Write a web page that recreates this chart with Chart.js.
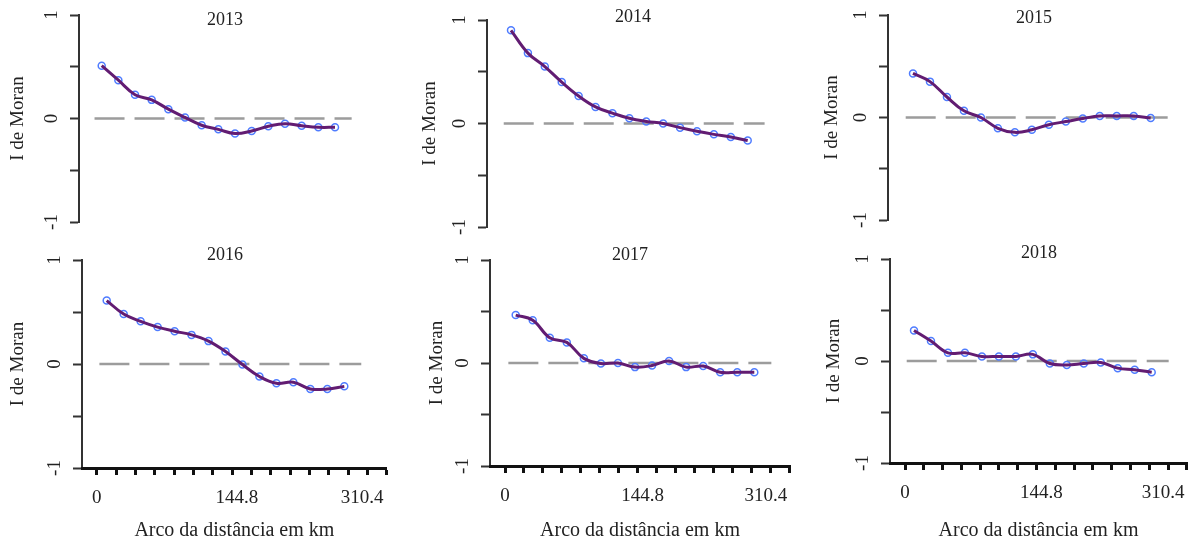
<!DOCTYPE html>
<html>
<head>
<meta charset="utf-8">
<title>I de Moran 2013-2018</title>
<script src="https://cdn.jsdelivr.net/npm/chart.js@4.4.1/dist/chart.umd.min.js"></script>
<style>
  html, body { margin: 0; padding: 0; background: #fff; width: 1199px; height: 543px; overflow: hidden; position: relative; }
  canvas { position: absolute; }
</style>
</head>
<body>
<script>
// distance classes (lags) and Moran's I per year
const lags = [1, 2, 3, 4, 5, 6, 7, 8, 9, 10, 11, 12, 13, 14, 15];
const years = ['2013', '2014', '2015', '2016', '2017', '2018'];
const moran2013 = [0.51, 0.37, 0.23, 0.18, 0.09, 0.01, -0.065, -0.105, -0.145, -0.12, -0.075, -0.05, -0.07, -0.085, -0.085];
const moran2014 = [0.90, 0.68, 0.55, 0.40, 0.265, 0.16, 0.10, 0.05, 0.02, 0.0, -0.04, -0.075, -0.105, -0.13, -0.165];
const moran2015 = [0.43, 0.35, 0.20, 0.065, 0.0, -0.105, -0.145, -0.12, -0.07, -0.04, -0.01, 0.015, 0.015, 0.015, -0.005];
const moran2016 = [0.61, 0.48, 0.41, 0.355, 0.315, 0.28, 0.22, 0.12, -0.005, -0.12, -0.185, -0.175, -0.24, -0.24, -0.215];
const moran2017 = [0.465, 0.415, 0.245, 0.20, 0.045, -0.005, 0.0, -0.04, -0.025, 0.02, -0.04, -0.03, -0.09, -0.09, -0.09];
const moran2018 = [0.30, 0.195, 0.08, 0.08, 0.045, 0.045, 0.045, 0.065, -0.025, -0.04, -0.025, -0.015, -0.07, -0.085, -0.11];
const moranByYear = [moran2013, moran2014, moran2015, moran2016, moran2017, moran2018];

// reference line at I = 0, in lag units
const zeroLineLags = [0.57, 16];

// x axis of the bottom row (km)
const xTickStepKm = 20.693;
const xMaxKm = 310.4;
const xTickLabels = ['0', '144.8', '310.4'];
const xTickLabelKm = [0, 150, 284];

const serif = '"Liberation Serif", "DejaVu Serif", serif';
const textColor = '#222';
const lineColor = '#621c72';
const pointColor = '#4f7cff';
const yAxisWidth = 40;

// where each panel sits on the page (pixels)
const panels = [
  {axisX: 79,  top: 15,  bottom: 222, right: 370,   titleX: 225,  titleY: 20,  yLabelX: 18,  firstPx: 101.7, lastPx: 335},
  {axisX: 487, top: 20,  bottom: 227, right: 780,   titleX: 633,  titleY: 17,  yLabelX: 430, firstPx: 511,   lastPx: 747.7},
  {axisX: 888, top: 15,  bottom: 220, right: 1170,  titleX: 1034, titleY: 18,  yLabelX: 832, firstPx: 913,   lastPx: 1150.7},
  {axisX: 82,  top: 260, bottom: 468, right: 386.7, titleX: 225,  titleY: 255, yLabelX: 18,  firstPx: 106.7, lastPx: 344.3,  xAxis: true, xStartPx: 96.7},
  {axisX: 490, top: 260, bottom: 466, right: 790,   titleX: 630,  titleY: 255, yLabelX: 437, firstPx: 515.7, lastPx: 754.3,  xAxis: true, xStartPx: 505},
  {axisX: 890, top: 259, bottom: 463, right: 1187,  titleX: 1039, titleY: 253, yLabelX: 834, firstPx: 914,   lastPx: 1151.7, xAxis: true, xStartPx: 905}
];

const xTicksKm = Array.from({length: Math.round(xMaxKm / xTickStepKm) + 1}, (_, k) => k * xTickStepKm);

panels.forEach((p, i) => {
  const cTop = p.xAxis ? 230 : -10;
  const cBottom = p.xAxis ? 543 : 250;
  const cLeft = p.axisX - 80;
  // empty space right of the plot so that the year sits where it does in the figure
  const spacer = Math.max(0, 2 * p.titleX - (p.axisX - yAxisWidth) - p.right);
  const cW = Math.round(p.right + spacer - cLeft + 12);

  const canvas = document.createElement('canvas');
  canvas.width = cW;
  canvas.height = cBottom - cTop;
  canvas.style.left = cLeft + 'px';
  canvas.style.top = cTop + 'px';
  document.body.appendChild(canvas);

  const pxPerLag = (p.lastPx - p.firstPx) / (lags.length - 1);
  const xMin = lags[0] - (p.firstPx - p.axisX) / pxPerLag;
  const xMax = lags[lags.length - 1] + (p.right - p.lastPx) / pxPerLag;
  const pts = lags.map((l, k) => ({x: l, y: moranByYear[i][k]}));
  const t = p.titleY - p.top - 9;

  const scales = {
    x: {type: 'linear', display: false, min: xMin, max: xMax},
    y: {
      type: 'linear',
      position: 'left',
      min: -1,
      max: 1,
      afterFit: s => { s.width = yAxisWidth; },
      border: {color: '#333', width: 2},
      grid: {drawOnChartArea: false, tickLength: 9, tickWidth: 2, tickColor: '#333'},
      ticks: {
        stepSize: 0.5,
        minRotation: 90,
        maxRotation: 90,
        crossAlign: 'center',
        padding: 10,
        autoSkip: false,
        color: textColor,
        font: {family: serif, size: 19, lineHeight: 1},
        callback: v => Number.isInteger(v) ? String(v) : ''
      },
      title: {
        display: true,
        text: 'I de Moran',
        color: textColor,
        font: {family: serif, size: 19, lineHeight: 1},
        padding: {top: p.yLabelX - (p.axisX - yAxisWidth) - 9.5}
      }
    },
    spacer: {
      type: 'linear',
      position: 'right',
      min: 0,
      max: 1,
      afterFit: s => { s.width = spacer; },
      border: {display: false},
      grid: {display: false},
      ticks: {display: false}
    }
  };

  if (p.xAxis) {
    const kmMin = -(p.xStartPx - p.axisX) * xMaxKm / (p.right - p.xStartPx);
    scales.xt = {
      type: 'linear',
      position: 'bottom',
      weight: 0,
      min: kmMin,
      max: xMaxKm,
      afterBuildTicks: s => { s.ticks = xTicksKm.map(v => ({value: v})); },
      afterFit: s => { s.height = 7; },
      border: {color: '#111', width: 3},
      grid: {drawOnChartArea: false, tickLength: 7, tickWidth: 3, tickColor: '#111'},
      ticks: {display: false}
    };
    scales.xl = {
      type: 'linear',
      position: 'bottom',
      weight: 1,
      min: kmMin,
      max: xMaxKm,
      afterBuildTicks: s => { s.ticks = xTickLabelKm.map(v => ({value: v})); },
      afterFit: s => { s.height = cBottom - p.bottom - 7; },
      border: {display: false},
      grid: {display: false},
      ticks: {
        autoSkip: false,
        maxRotation: 0,
        padding: 6,
        color: textColor,
        font: {family: serif, size: 19, lineHeight: 1},
        callback: (v, k) => xTickLabels[k]
      },
      title: {
        display: true,
        text: 'Arco da distância em km',
        color: textColor,
        font: {family: serif, size: 20, lineHeight: 1},
        padding: {top: 0, bottom: 2}
      }
    };
  }

  new Chart(canvas.getContext('2d'), {
    type: 'line',
    data: {
      datasets: [
        {
          data: pts,
          borderColor: lineColor,
          borderWidth: 3,
          tension: 0.4,
          pointRadius: 0,
          fill: false,
          order: 0
        },
        {
          data: pts,
          showLine: false,
          pointRadius: 3.5,
          pointBorderWidth: 1.5,
          pointBorderColor: pointColor,
          pointBackgroundColor: 'rgba(255,255,255,0)',
          order: 1
        },
        {
          data: zeroLineLags.map(l => ({x: l, y: 0})),
          borderColor: '#9c9c9c',
          borderWidth: 2.5,
          borderDash: [30, 10],
          pointRadius: 0,
          fill: false,
          order: 2
        }
      ]
    },
    options: {
      responsive: false,
      animation: false,
      devicePixelRatio: 1,
      layout: {
        padding: {
          left: p.axisX - cLeft - yAxisWidth,
          right: cLeft + cW - p.right - spacer,
          top: p.top - cTop,
          bottom: p.xAxis ? 0 : cBottom - p.bottom
        }
      },
      plugins: {
        legend: {display: false},
        tooltip: {enabled: false},
        title: {
          display: true,
          text: years[i],
          color: textColor,
          font: {family: serif, size: 18, weight: 'normal', lineHeight: 1},
          padding: {top: t, bottom: -(18 + t)}
        }
      },
      scales: scales
    }
  });
});
</script>
</body>
</html>
